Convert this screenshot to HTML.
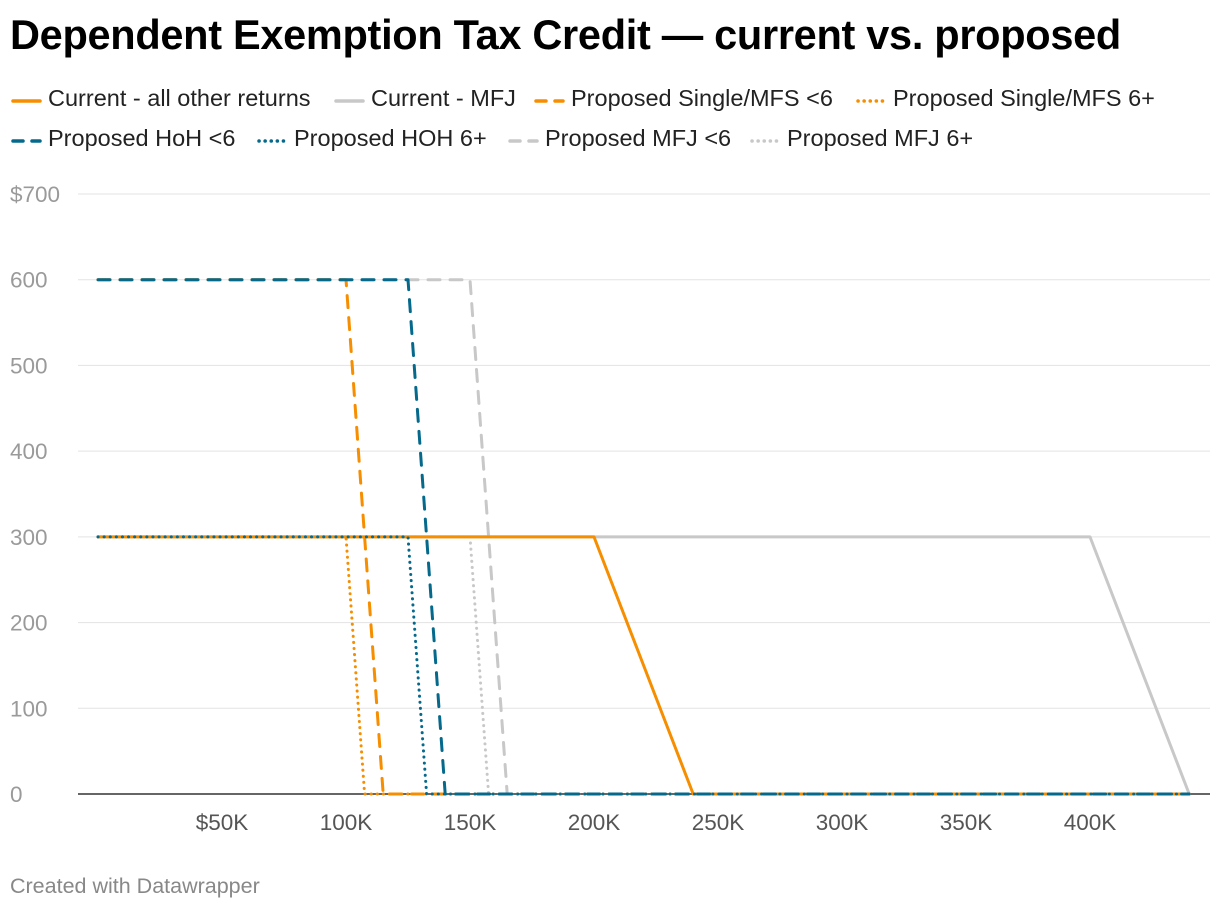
<!DOCTYPE html>
<html><head><meta charset="utf-8"><style>
body{margin:0;background:#fff;font-family:"Liberation Sans",sans-serif;}
#wrap{position:relative;width:1220px;height:910px;overflow:hidden}
h1{position:absolute;left:10px;top:11px;margin:0;font-size:41.5px;font-weight:bold;color:#000;letter-spacing:-0.3px}
.leg{position:absolute;font-size:23.5px;color:#222;white-space:nowrap}
.leg svg{position:absolute;left:0;top:10px}
.leg span{position:absolute;left:38px;top:-2px}
#foot{position:absolute;left:10px;top:874px;font-size:21.5px;color:#888}
</style></head><body><div id="wrap">
<h1>Dependent Exemption Tax Credit — current vs. proposed</h1>
<div id="legend"></div>
<svg id="chart" width="1220" height="910" style="position:absolute;left:0;top:0"></svg>
<div id="foot">Created with Datawrapper</div>
</div>
<script>
const yTicks=[0,100,200,300,400,500,600,700];
const yTickLabels=["0","100","200","300","400","500","600","$700"];
const xTicks=[50,100,150,200,250,300,350,400];
const xTickLabels=["$50K","100K","150K","200K","250K","300K","350K","400K"];
const seriesNames=["Proposed MFJ 6+","Proposed MFJ <6","Current - MFJ","Current - all other returns","Proposed Single/MFS 6+","Proposed Single/MFS <6","Proposed HOH 6+","Proposed HoH <6"];
const xMFJ6p=[0,150,157.5,440];const yMFJ6p=[300,300,0,0];
const xMFJ6=[0,150,165,440];const yMFJ6=[600,600,0,0];
const xCurMFJ=[0,400,440];const yCurMFJ=[300,300,0];
const xCurOther=[0,200,240,440];const yCurOther=[300,300,0,0];
const xS6p=[0,100,107.5,440];const yS6p=[300,300,0,0];
const xS6=[0,100,115,440];const yS6=[600,600,0,0];
const xH6p=[0,125,132.5,440];const yH6p=[300,300,0,0];
const xH6=[0,125,140,440];const yH6=[600,600,0,0];
const ORANGE="#f68e00",TEAL="#05698c",GRAY="#c8c8c8";
const styles=[[GRAY,"dot"],[GRAY,"dash"],[GRAY,"solid"],[ORANGE,"solid"],[ORANGE,"dot"],[ORANGE,"dash"],[TEAL,"dot"],[TEAL,"dash"]];
const xs=[xMFJ6p,xMFJ6,xCurMFJ,xCurOther,xS6p,xS6,xH6p,xH6];
const ys=[yMFJ6p,yMFJ6,yCurMFJ,yCurOther,yS6p,yS6,yH6p,yH6];
const X=v=>98+v*2.48, Y=v=>794-v*(600/700);
const NS="http://www.w3.org/2000/svg",svg=document.getElementById('chart');
function mk(t,a){const e=document.createElementNS(NS,t);for(const k in a)e.setAttribute(k,a[k]);return e;}
function dashOf(s){return s==="dash"?"12 10":s==="dot"?"0.1 6":"none";}
yTicks.forEach((t,i)=>{
  if(t>0){const g=mk('line',{x1:78,x2:1210,y1:Y(t),y2:Y(t),stroke:'#e3e3e3','stroke-width':1});
  
  svg.appendChild(g);}
  const l=mk('text',{x:10,y:Y(t)+8,'font-size':22.5,fill:'#9a9a9a','font-family':'Liberation Sans, sans-serif'});
  l.textContent=yTickLabels[i];
  
  svg.appendChild(l);
});
xTicks.forEach((t,i)=>{
  const l=mk('text',{x:X(t),y:830,'font-size':22.5,fill:'#555','text-anchor':'middle','font-family':'Liberation Sans, sans-serif'});
  l.textContent=xTickLabels[i];
  
  svg.appendChild(l);
});
const base=mk('line',{x1:78,x2:1210,y1:794,y2:794,stroke:'#333','stroke-width':1.5});

svg.appendChild(base);
xs.forEach((xa,i)=>{
  const d=xa.map((x,j)=>(j?'L':'M')+X(x)+','+Y(ys[i][j])).join(' ');
  const p=mk('path',{d:d,fill:'none',stroke:styles[i][0],'stroke-width':3,'stroke-linecap':'round','stroke-linejoin':'round'});
  if(styles[i][1]!=="solid")p.setAttribute('stroke-dasharray',dashOf(styles[i][1]));
  
  svg.appendChild(p);
});
const legendItems=[["Current - all other returns",ORANGE,"solid",10,100],["Current - MFJ",GRAY,"solid",333,100],["Proposed Single/MFS <6",ORANGE,"dash",533,100],["Proposed Single/MFS 6+",ORANGE,"dot",855,100],
["Proposed HoH <6",TEAL,"dash",10,140],["Proposed HOH 6+",TEAL,"dot",256,140],["Proposed MFJ <6",GRAY,"dash",507,140],["Proposed MFJ 6+",GRAY,"dot",749,140]];
const lg=document.getElementById('legend');
legendItems.forEach(it=>{
  const d=document.createElement('div');d.className='leg';d.style.left=it[3]+'px';d.style.top=(it[4]-13)+'px';
  
  
  const da=it[2]==="dash"?'stroke-dasharray="10 9"':it[2]==="dot"?'stroke-dasharray="0.1 6"':'';
  d.innerHTML=`<svg width="34" height="8"><line x1="3" x2="30" y1="4" y2="4" stroke="${it[1]}" stroke-width="3.5" stroke-linecap="round" ${da}/></svg><span>${it[0].replace('<','&lt;')}</span>`;
  lg.appendChild(d);
});
</script></body></html>
